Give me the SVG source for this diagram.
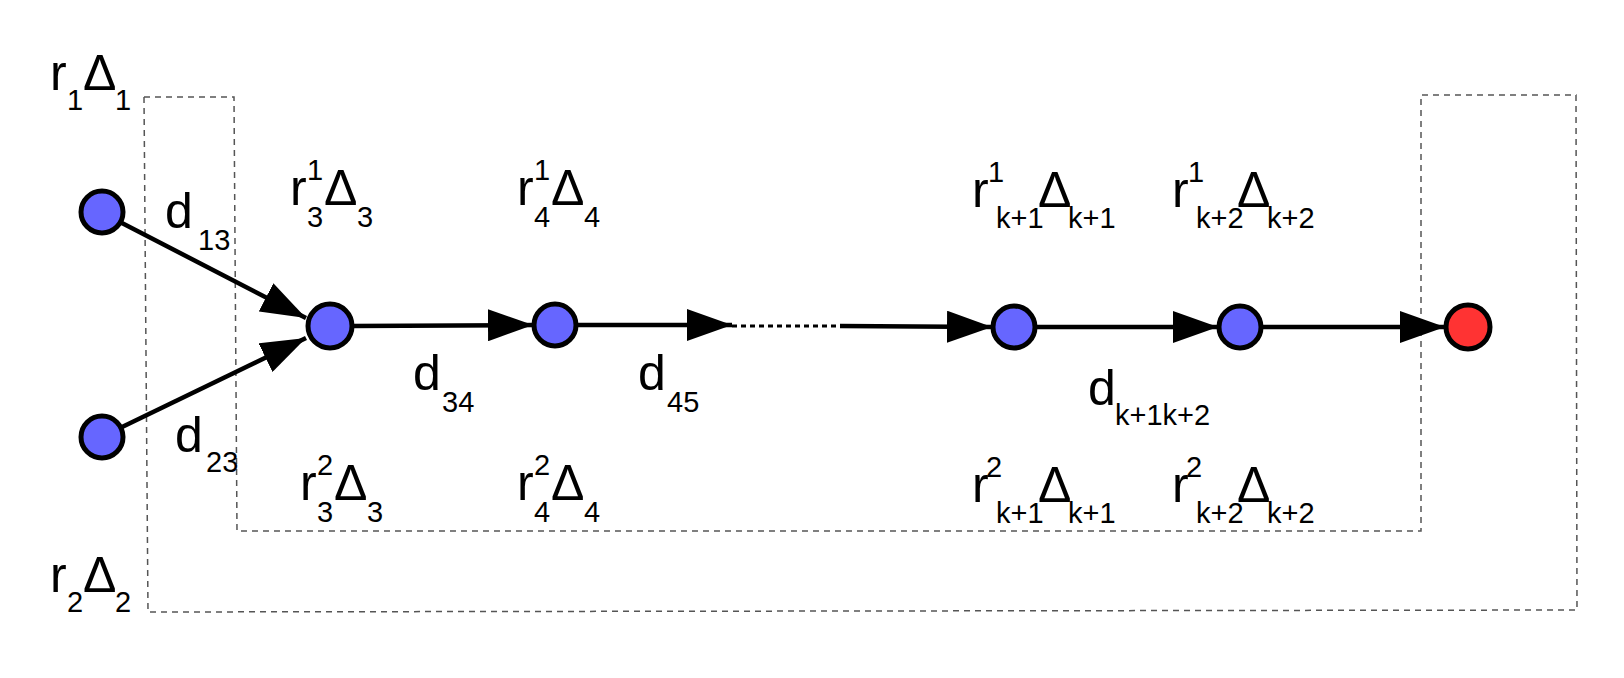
<svg xmlns="http://www.w3.org/2000/svg" width="1624" height="678" viewBox="0 0 1624 678">
<style>
text{font-family:"Liberation Sans",Arial,sans-serif;fill:#000}
.m{font-size:50px}.s{font-size:29px}
.n{stroke:#000;stroke-width:5}
.e{stroke:#000;stroke-width:4.5;fill:none}
</style>
<defs><marker id="a" markerUnits="userSpaceOnUse" markerWidth="46" markerHeight="32" refX="45" refY="16" orient="auto" viewBox="0 0 46 32"><path d="M0,0 L45,16 L0,32 Z" fill="#000"/></marker></defs>
<rect width="1624" height="678" fill="#fff"/>
<path d="M144,97 L234,97 L237,531 L1421,531 L1421,95 L1576,95 L1577,610 L148,612 Z" fill="none" stroke="#555" stroke-width="1.5" stroke-dasharray="6,5"/>
<g id="connectors">
<line class="e" x1="120" y1="222" x2="306" y2="318" marker-end="url(#a)"/>
<line class="e" x1="120" y1="428" x2="306" y2="338" marker-end="url(#a)"/>
<line class="e" x1="352" y1="326" x2="533" y2="325" marker-end="url(#a)"/>
<line class="e" x1="578" y1="325" x2="732" y2="325" marker-end="url(#a)"/>
<line x1="732" y1="326" x2="840" y2="326" stroke="#000" stroke-width="3" stroke-dasharray="5,4"/>
<line class="e" x1="840" y1="326" x2="992" y2="327" marker-end="url(#a)"/>
<line class="e" x1="1036" y1="327" x2="1218" y2="327" marker-end="url(#a)"/>
<line class="e" x1="1262" y1="327" x2="1445" y2="327" marker-end="url(#a)"/>
</g>
<g id="n1"><circle class="n" cx="102" cy="212" r="21" fill="#6666ff"/></g>
<g id="n2"><circle class="n" cx="102" cy="437" r="21" fill="#6666ff"/></g>
<g id="n3"><circle class="n" cx="330" cy="326" r="22" fill="#6666ff"/></g>
<g id="n4"><circle class="n" cx="555" cy="325" r="21" fill="#6666ff"/></g>
<g id="nk1"><circle class="n" cx="1014" cy="327" r="21" fill="#6666ff"/></g>
<g id="nk2"><circle class="n" cx="1240" cy="327" r="21" fill="#6666ff"/></g>
<g id="nend"><circle class="n" cx="1468" cy="327" r="22" fill="#ff3333"/></g>
<g id="labels">
<text class="m" x="50" y="90">r</text><text class="s" x="67" y="110">1</text><text class="m" x="83" y="90">Δ</text><text class="s" x="115" y="110">1</text>
<text class="m" x="50" y="592">r</text><text class="s" x="67" y="612">2</text><text class="m" x="83" y="592">Δ</text><text class="s" x="115" y="612">2</text>
<text class="m" x="165" y="228">d</text><text class="s" x="198" y="250">13</text>
<text class="m" x="175" y="452">d</text><text class="s" x="206" y="472">23</text>
<text class="m" x="413" y="390">d</text><text class="s" x="442" y="412">34</text>
<text class="m" x="638" y="390">d</text><text class="s" x="667" y="412">45</text>
<text class="m" x="1088" y="405">d</text><text class="s" x="1115" y="425">k+1k+2</text>
<text class="m" x="290" y="205">r</text><text class="s" x="307" y="180">1</text><text class="s" x="307" y="227">3</text><text class="m" x="324" y="205">Δ</text><text class="s" x="357" y="227">3</text>
<text class="m" x="517" y="205">r</text><text class="s" x="534" y="180">1</text><text class="s" x="534" y="227">4</text><text class="m" x="551" y="205">Δ</text><text class="s" x="584" y="227">4</text>
<text class="m" x="300" y="500">r</text><text class="s" x="317" y="475">2</text><text class="s" x="317" y="522">3</text><text class="m" x="334" y="500">Δ</text><text class="s" x="367" y="522">3</text>
<text class="m" x="517" y="500">r</text><text class="s" x="534" y="475">2</text><text class="s" x="534" y="522">4</text><text class="m" x="551" y="500">Δ</text><text class="s" x="584" y="522">4</text>
<text class="m" x="972" y="207">r</text><text class="s" x="988" y="182">1</text><text class="s" x="996" y="228">k+1</text><text class="m" x="1038" y="207">Δ</text><text class="s" x="1068" y="228">k+1</text>
<text class="m" x="1172" y="207">r</text><text class="s" x="1188" y="182">1</text><text class="s" x="1196" y="228">k+2</text><text class="m" x="1237" y="207">Δ</text><text class="s" x="1267" y="228">k+2</text>
<text class="m" x="972" y="502">r</text><text class="s" x="986" y="477">2</text><text class="s" x="996" y="523">k+1</text><text class="m" x="1038" y="502">Δ</text><text class="s" x="1068" y="523">k+1</text>
<text class="m" x="1172" y="502">r</text><text class="s" x="1186" y="477">2</text><text class="s" x="1196" y="523">k+2</text><text class="m" x="1237" y="502">Δ</text><text class="s" x="1267" y="523">k+2</text>
</g>
</svg>
